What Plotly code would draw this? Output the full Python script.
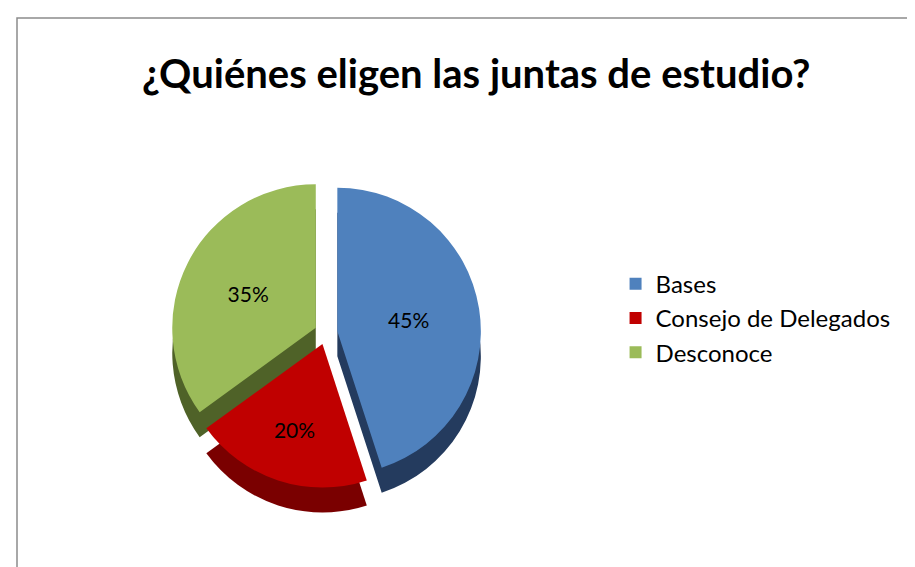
import plotly.graph_objects as go

labels = ["Bases", "Consejo de Delegados", "Desconoce"]
values = [45, 20, 35]
colors = ["#4F81BD", "#C00000", "#9BBB59"]
side_colors = ["#243B5E", "#7A0000", "#4F6228"]
title = "¿Quiénes eligen las juntas de estudio?"

W, H = 915, 567
FONT = "Lato"

def dom(cx, cy, d):
    return dict(x=[(cx - d / 2) / W, (cx + d / 2) / W],
                y=[1 - (cy + d / 2) / H, 1 - (cy - d / 2) / H])

PULL = [0.08, 0.08, 0.08]
fig = go.Figure()
# depth (side) layer
fig.add_trace(go.Pie(
    labels=labels, values=values, sort=False, direction="clockwise", rotation=0,
    pull=PULL, marker=dict(colors=side_colors, line=dict(width=0)),
    textinfo="none", hoverinfo="skip", showlegend=False,
    domain=dom(318, 350, 310),
))
# top layer
fig.add_trace(go.Pie(
    labels=labels, values=values, sort=False, direction="clockwise", rotation=0,
    pull=PULL, marker=dict(colors=colors, line=dict(width=0)),
    textinfo="percent", texttemplate="%{percent:.0%}", textposition="inside",
    insidetextorientation="horizontal",
    textfont=dict(family=FONT, size=21, color="#000000"),
    domain=dom(318, 325, 310),
))

fig.update_layout(
    width=W, height=H,
    margin=dict(l=0, r=0, t=0, b=0),
    paper_bgcolor="white",
    font=dict(family=FONT, color="#000000"),
    legend=dict(x=0.664, y=0.453, xanchor="left", yanchor="middle",
                font=dict(family=FONT, size=24, color="#000000"),
                traceorder="normal", itemwidth=30),
    annotations=[dict(text="<b>" + title + "</b>", x=0.512, y=1 - 65 / H,
                      xref="paper", yref="paper", showarrow=False,
                      xanchor="center", yanchor="middle",
                      font=dict(family=FONT, size=40, color="#000000"))],
    shapes=[dict(type="rect", xref="paper", yref="paper",
                 x0=9 / W, x1=912 / W, y0=-0.05, y1=1 - 10 / H,
                 line=dict(color="#8C8C8C", width=1.5), fillcolor="rgba(0,0,0,0)")],
)

fig.write_html("out.html")
